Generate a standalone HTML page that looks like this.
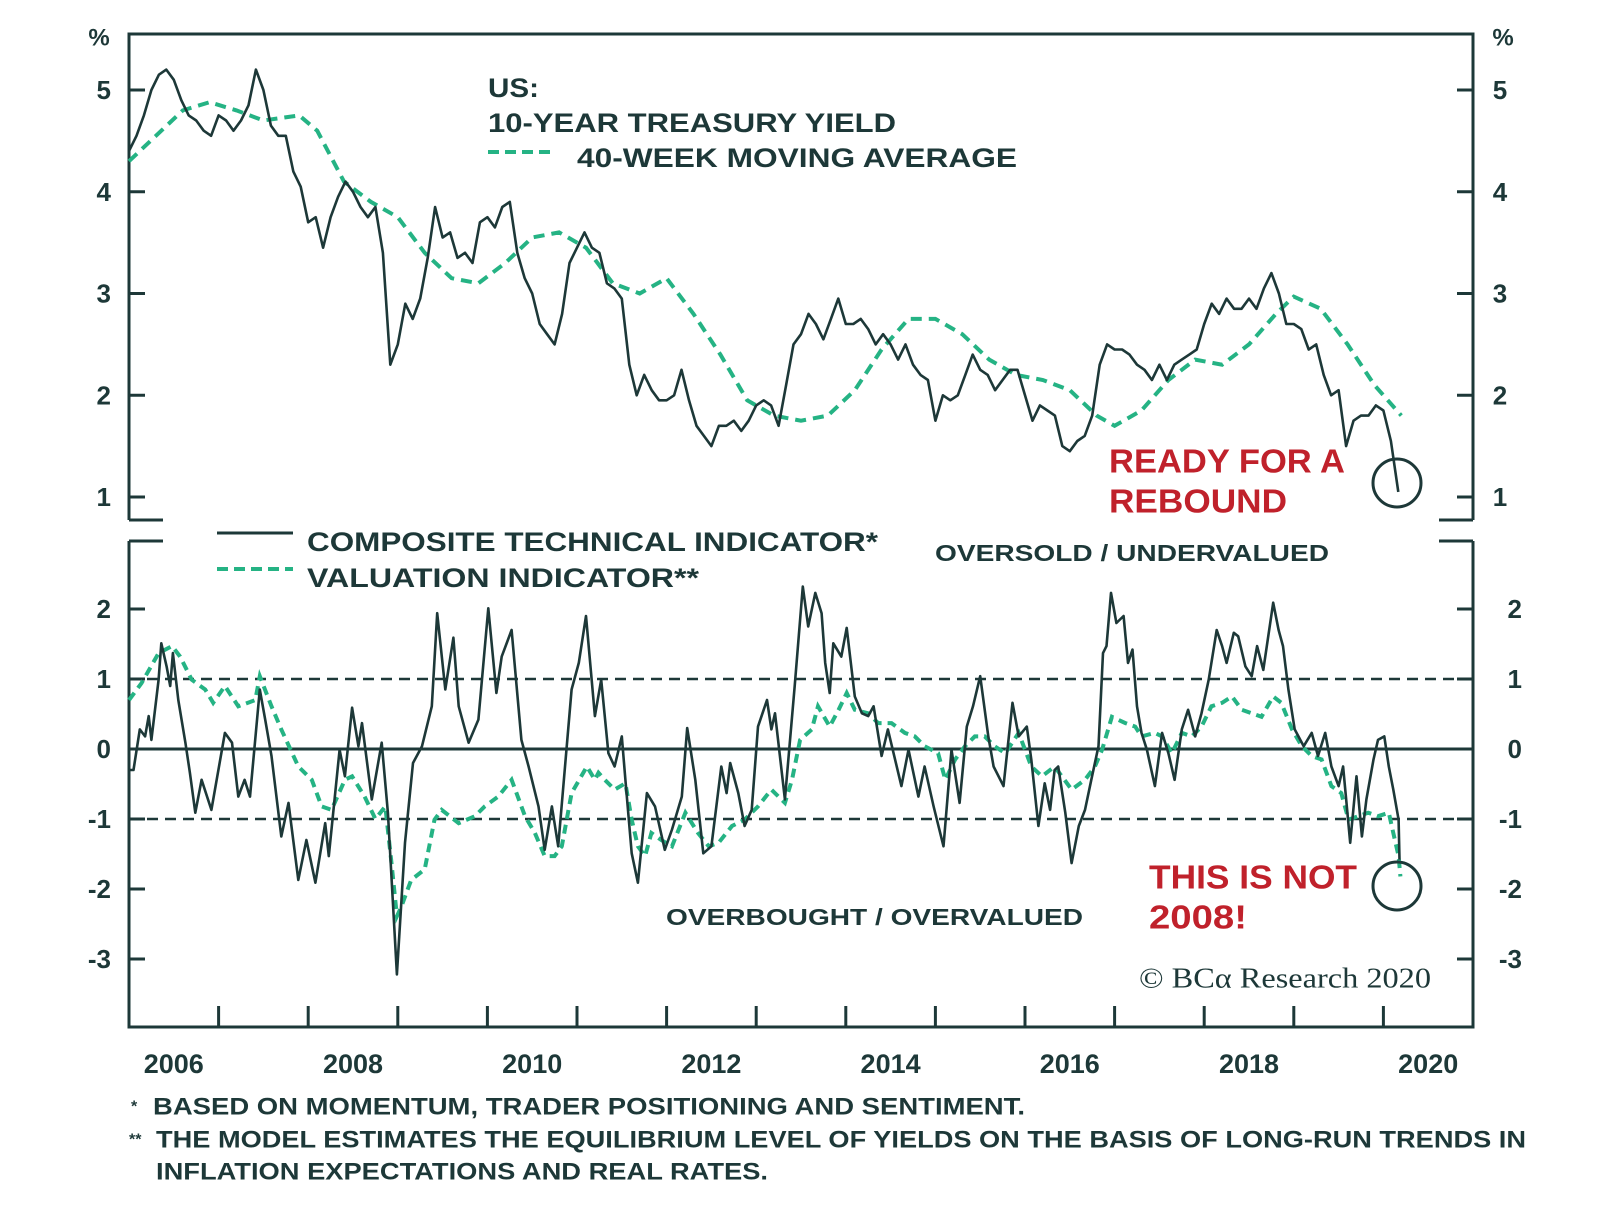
<!DOCTYPE html>
<html><head><meta charset="utf-8"><style>
html,body{margin:0;padding:0;background:#fff;}
svg{display:block;}
text{font-family:"Liberation Sans",sans-serif;}
</style></head><body>
<svg id="chart" width="1600" height="1219" viewBox="0 0 1600 1219" xmlns="http://www.w3.org/2000/svg">
<g id="frame" stroke="#1d3838" stroke-width="3" fill="none">
  <path d="M129 520 V34 H1473 V520"/>
  <path d="M129 520 H163 M1439 520 H1473"/>
  <path d="M129 541 V1027 H1473 V541"/>
  <path d="M129 541 H163 M1439 541 H1473"/>
</g>
<g id="axes"></g>
<g id="series"></g>
<g id="labels" fill="#1d3838" font-weight="bold">
  <text x="99" y="38" font-size="24" text-anchor="middle" dominant-baseline="central">%</text>
  <text x="1503" y="38" font-size="24" text-anchor="middle" dominant-baseline="central">%</text>
  <text x="488" y="88" font-size="27" dominant-baseline="central" textLength="51" lengthAdjust="spacingAndGlyphs">US:</text>
  <text x="488" y="123" font-size="27" dominant-baseline="central" textLength="408" lengthAdjust="spacingAndGlyphs">10-YEAR TREASURY YIELD</text>
  <line x1="488" y1="152" x2="556" y2="152" stroke="#25b384" stroke-width="4" stroke-dasharray="11,6"/>
  <text x="577" y="158" font-size="27" dominant-baseline="central" textLength="440" lengthAdjust="spacingAndGlyphs">40-WEEK MOVING AVERAGE</text>
  <line x1="217" y1="533" x2="293" y2="533" stroke="#1d3838" stroke-width="3"/>
  <text x="307" y="542" font-size="27" dominant-baseline="central" textLength="571" lengthAdjust="spacingAndGlyphs">COMPOSITE TECHNICAL INDICATOR*</text>
  <line x1="217" y1="569" x2="293" y2="569" stroke="#25b384" stroke-width="4" stroke-dasharray="11,6"/>
  <text x="307" y="578" font-size="27" dominant-baseline="central" textLength="392" lengthAdjust="spacingAndGlyphs">VALUATION INDICATOR**</text>
  <text x="935" y="553" font-size="23" dominant-baseline="central" textLength="394" lengthAdjust="spacingAndGlyphs">OVERSOLD / UNDERVALUED</text>
  <text x="666" y="917" font-size="23" dominant-baseline="central" textLength="417" lengthAdjust="spacingAndGlyphs">OVERBOUGHT / OVERVALUED</text>
  <g fill="#c0212b" font-weight="bold" font-size="33">
    <text x="1109" y="461" dominant-baseline="central" textLength="236" lengthAdjust="spacingAndGlyphs">READY FOR A</text>
    <text x="1109" y="501" dominant-baseline="central" textLength="178" lengthAdjust="spacingAndGlyphs">REBOUND</text>
    <text x="1149" y="877" dominant-baseline="central" textLength="208" lengthAdjust="spacingAndGlyphs">THIS IS NOT</text>
    <text x="1149" y="917" dominant-baseline="central" textLength="98" lengthAdjust="spacingAndGlyphs">2008!</text>
  </g>
  <circle cx="1397" cy="483" r="24" fill="none" stroke="#1d3838" stroke-width="3"/>
  <circle cx="1397" cy="886" r="24" fill="none" stroke="#1d3838" stroke-width="3"/>
  <text x="1139" y="979" font-size="28" font-weight="normal" dominant-baseline="central" textLength="292" lengthAdjust="spacingAndGlyphs" style="font-family:'Liberation Serif',serif">© BCα Research 2020</text>
  <g font-size="24">
    <text x="131" y="1107" font-size="16" dominant-baseline="central">*</text>
    <text x="153" y="1107" dominant-baseline="central" textLength="872" lengthAdjust="spacingAndGlyphs">BASED ON MOMENTUM, TRADER POSITIONING AND SENTIMENT.</text>
    <text x="129" y="1140" font-size="16" dominant-baseline="central">**</text>
    <text x="156" y="1140" dominant-baseline="central" textLength="1370" lengthAdjust="spacingAndGlyphs">THE MODEL ESTIMATES THE EQUILIBRIUM LEVEL OF YIELDS ON THE BASIS OF LONG-RUN TRENDS IN</text>
    <text x="156" y="1172" dominant-baseline="central" textLength="612" lengthAdjust="spacingAndGlyphs">INFLATION EXPECTATIONS AND REAL RATES.</text>
  </g>
</g>
</svg>
<script>
// ---- data ----
const yearLabels = [2006, 2008, 2010, 2012, 2014, 2016, 2018, 2020];
const topTicks = [1, 2, 3, 4, 5];
const bottomTicks = [-3, -2, -1, 0, 1, 2];
const bandLevels = [-1, 1];
// 10-year yield, monthly from Jan 2006
const yieldVals = [
4.4,4.55,4.75,5.0,5.15,5.2,5.1,4.9,4.75,4.7,4.6,4.55,
4.75,4.7,4.6,4.7,4.85,5.2,5.0,4.65,4.55,4.55,4.2,4.05,
3.7,3.75,3.45,3.75,3.95,4.1,4.0,3.85,3.75,3.85,3.4,2.3,
2.5,2.9,2.75,2.95,3.35,3.85,3.55,3.6,3.35,3.4,3.3,3.7,
3.75,3.65,3.85,3.9,3.4,3.15,3.0,2.7,2.6,2.5,2.8,3.3,
3.45,3.6,3.45,3.4,3.1,3.05,2.95,2.3,2.0,2.2,2.05,1.95,
1.95,2.0,2.25,1.95,1.7,1.6,1.5,1.7,1.7,1.75,1.65,1.75,
1.9,1.95,1.9,1.7,2.1,2.5,2.6,2.8,2.7,2.55,2.75,2.95,
2.7,2.7,2.75,2.65,2.5,2.6,2.5,2.35,2.5,2.3,2.2,2.15,
1.75,2.0,1.95,2.0,2.2,2.4,2.25,2.2,2.05,2.15,2.25,2.25,
2.0,1.75,1.9,1.85,1.8,1.5,1.45,1.55,1.6,1.8,2.3,2.5,
2.45,2.45,2.4,2.3,2.25,2.15,2.3,2.15,2.3,2.35,2.4,2.45,
2.7,2.9,2.8,2.95,2.85,2.85,2.95,2.85,3.05,3.2,3.0,2.7,
2.7,2.65,2.45,2.5,2.2,2.0,2.05,1.5,1.75,1.8,1.8,1.9,
1.85,1.55,1.05];
// 40-week moving average (years since 2006, value)
const maYears = [0,0.3,0.6,0.9,1.2,1.5,1.9,2.1,2.4,2.7,3.0,3.3,3.6,3.9,4.2,4.5,4.8,5.1,5.4,5.7,6.0,6.3,6.6,6.9,7.2,7.5,7.8,8.1,8.4,8.7,9.0,9.3,9.6,9.9,10.2,10.5,10.8,11.0,11.3,11.6,11.9,12.2,12.5,12.8,13.0,13.3,13.6,13.9,14.2];
const maVals = [4.3,4.55,4.8,4.88,4.8,4.7,4.75,4.6,4.1,3.9,3.75,3.4,3.15,3.1,3.3,3.55,3.6,3.45,3.1,3.0,3.15,2.8,2.4,1.95,1.8,1.75,1.8,2.05,2.45,2.75,2.75,2.6,2.35,2.2,2.15,2.05,1.8,1.7,1.85,2.15,2.35,2.3,2.5,2.8,2.97,2.85,2.5,2.1,1.8];
// composite technical indicator (years since 2006, value)
const compYears = [0,0.05,0.12,0.18,0.22,0.25,0.33,0.36,0.42,0.46,0.49,0.55,0.63,0.68,0.74,0.81,0.92,1.07,1.15,1.22,1.29,1.35,1.46,1.52,1.59,1.70,1.78,1.89,1.98,2.08,2.19,2.23,2.35,2.41,2.49,2.56,2.60,2.71,2.82,2.89,2.99,3.08,3.17,3.27,3.38,3.44,3.53,3.62,3.68,3.79,3.90,4.01,4.10,4.16,4.27,4.38,4.46,4.57,4.64,4.72,4.79,4.94,5.02,5.10,5.20,
5.27,5.35,5.42,5.50,5.54,5.61,5.68,5.78,5.87,5.98,6.06,6.17,6.23,6.32,6.41,6.50,6.61,6.67,6.71,6.80,6.87,6.95,7.02,7.12,7.17,7.21,7.32,7.43,7.52,7.58,7.66,7.73,7.77,7.82,7.86,7.95,8.01,8.10,8.18,8.25,8.31,8.40,8.47,8.62,8.70,8.81,8.88,8.98,9.09,9.18,9.27,9.35,9.42,9.50,9.59,9.65,9.76,9.86,9.93,10.02,10.07,10.15,10.22,10.28,10.33,
10.37,10.45,10.52,10.60,10.67,10.74,10.82,10.87,10.91,10.96,11.02,11.10,11.15,11.20,11.25,11.30,11.36,11.45,11.53,11.60,11.67,11.75,11.82,11.90,11.97,12.05,12.14,12.20,12.25,12.33,12.38,12.46,12.53,12.59,12.66,12.77,12.83,12.88,12.94,13.01,13.11,13.20,13.27,13.35,13.42,13.50,13.55,13.63,13.70,13.76,13.81,13.89,13.94,14.01,14.06,14.11,14.17,14.18];
const compVals = [-0.30,-0.30,0.28,0.18,0.47,0.13,0.99,1.51,1.18,0.90,1.37,0.70,0.09,-0.34,-0.91,-0.44,-0.87,0.23,0.09,-0.68,-0.44,-0.68,0.85,0.42,-0.10,-1.25,-0.77,-1.87,-1.30,-1.91,-1.06,-1.53,-0.01,-0.39,0.59,0.04,0.37,-0.72,0.09,-0.91,-3.22,-1.34,-0.20,0.04,0.61,1.94,0.85,1.59,0.61,0.09,0.42,2.01,0.80,1.32,1.70,0.13,-0.25,-0.82,-1.44,-0.82,-1.39,0.85,1.23,1.90,0.47,
0.99,-0.06,-0.25,0.18,-0.44,-1.49,-1.91,-0.63,-0.82,-1.44,-1.15,-0.68,0.30,-0.44,-1.49,-1.39,-0.25,-0.63,-0.20,-0.63,-1.10,-0.87,0.32,0.70,0.28,0.51,-0.72,0.90,2.32,1.75,2.23,1.94,1.23,0.80,1.51,1.32,1.73,0.75,0.51,0.47,0.61,-0.10,0.28,-0.53,-0.01,-0.68,-0.25,-0.82,-1.39,-0.01,-0.77,0.32,0.61,1.04,0.18,-0.25,-0.53,0.66,0.18,0.32,-0.15,-1.10,-0.49,-0.87,-0.30,
-0.25,-0.91,-1.63,-1.10,-0.87,-0.44,0.04,1.37,1.47,2.23,1.80,1.90,1.23,1.42,0.61,0.23,-0.01,-0.53,0.23,-0.06,-0.44,0.28,0.56,0.18,0.51,0.99,1.70,1.47,1.23,1.66,1.61,1.18,1.04,1.47,1.13,2.09,1.70,1.47,0.85,0.28,0.04,0.23,-0.10,0.23,-0.25,-0.53,-0.25,-1.34,-0.39,-1.25,-0.72,-0.15,0.13,0.18,-0.25,-0.58,-1.01,-1.58];
// valuation indicator (years since 2006, value)
const valYears = [0,0.14,0.33,0.48,0.57,0.70,0.85,0.94,1.07,1.22,1.41,1.46,1.59,1.70,1.89,2.04,2.15,2.26,2.41,2.49,2.63,2.75,2.86,2.93,2.99,3.04,3.15,3.30,3.41,3.49,3.68,3.86,3.97,4.12,4.27,4.42,4.53,4.64,4.75,4.83,4.94,5.11,5.20,
5.24,5.31,5.42,5.54,5.61,5.68,5.76,5.83,5.94,6.06,6.21,6.35,6.47,6.58,6.73,6.87,7.02,7.17,7.32,7.40,7.49,7.62,7.69,7.82,7.92,8.01,8.10,8.25,8.36,8.51,8.66,8.77,8.88,9.03,9.11,9.22,9.33,9.44,9.55,9.66,9.78,9.93,10.07,10.19,10.33,
10.52,10.67,10.78,10.86,10.97,11.12,11.23,11.30,11.45,11.53,11.64,11.75,11.86,11.97,12.08,12.20,12.31,12.42,12.53,12.64,12.77,12.86,12.98,13.09,13.20,13.31,13.42,13.53,13.61,13.72,13.83,13.94,14.06,14.11,14.17,14.19];
const valVals = [0.70,0.94,1.37,1.47,1.32,0.99,0.85,0.66,0.90,0.61,0.70,1.04,0.61,0.28,-0.25,-0.44,-0.82,-0.87,-0.44,-0.39,-0.68,-1.00,-0.82,-1.63,-2.39,-2.25,-1.87,-1.72,-1.01,-0.87,-1.06,-0.96,-0.82,-0.68,-0.44,-0.96,-1.20,-1.53,-1.53,-1.39,-0.63,-0.25,-0.44,
-0.34,-0.44,-0.58,-0.49,-1.01,-1.39,-1.53,-1.20,-1.30,-1.39,-0.91,-1.20,-1.39,-1.34,-1.10,-1.01,-0.82,-0.58,-0.77,-0.44,0.13,0.28,0.61,0.32,0.56,0.80,0.56,0.51,0.37,0.37,0.23,0.18,0.04,-0.06,-0.44,-0.15,0.04,0.18,0.18,0.04,-0.06,0.23,-0.25,-0.39,-0.25,
-0.58,-0.44,-0.25,-0.01,0.46,0.37,0.32,0.18,0.23,0.18,-0.06,0.23,0.18,0.32,0.61,0.66,0.75,0.56,0.51,0.46,0.75,0.66,0.28,0.04,-0.10,-0.15,-0.53,-0.63,-1.01,-0.96,-0.91,-0.96,-0.91,-1.20,-1.53,-1.82];

// ---- scales ----
const X0 = 129, XW = 89.6;
function x(t){ return X0 + t * XW; }
function yTop(v){ return 497 - (v - 1) * 101.75; }
function yBot(v){ return 749 - v * 70; }
const NS = 'http://www.w3.org/2000/svg';
const DARK = '#1d3838', GREEN = '#25b384';
function mk(tag, attrs, parent){
  const e = document.createElementNS(NS, tag);
  for (const k in attrs) e.setAttribute(k, attrs[k]);
  parent.appendChild(e);
  return e;
}
const axes = document.getElementById('axes');
const series = document.getElementById('series');

topTicks.forEach(v => {
  const yy = yTop(v);
  const t1 = mk('path', {d:`M129 ${yy} H145 M1457 ${yy} H1473`, stroke:DARK, 'stroke-width':3}, axes);
  
  
  const l = mk('text', {x:111, y:yy, 'text-anchor':'end', 'dominant-baseline':'central', 'font-size':26, 'font-weight':'bold', fill:DARK}, axes);
  l.textContent = v;
  
  
  const r = mk('text', {x:1500, y:yy, 'text-anchor':'middle', 'dominant-baseline':'central', 'font-size':26, 'font-weight':'bold', fill:DARK}, axes);
  r.textContent = v;
  
  
});
bottomTicks.forEach(v => {
  const yy = yBot(v);
  const t1 = mk('path', {d:`M129 ${yy} H145 M1457 ${yy} H1473`, stroke:DARK, 'stroke-width':3}, axes);
  
  
  const l = mk('text', {x:111, y:yy, 'text-anchor':'end', 'dominant-baseline':'central', 'font-size':26, 'font-weight':'bold', fill:DARK}, axes);
  l.textContent = v;
  
  
  const r = mk('text', {x:1522, y:yy, 'text-anchor':'end', 'dominant-baseline':'central', 'font-size':26, 'font-weight':'bold', fill:DARK}, axes);
  r.textContent = v;
  
  
});
const zl = mk('line', {x1:129, x2:1473, y1:yBot(0), y2:yBot(0), stroke:DARK, 'stroke-width':3}, axes);


bandLevels.forEach(v => {
  const b = mk('line', {x1:129, x2:1473, y1:yBot(v), y2:yBot(v), stroke:DARK, 'stroke-width':2.5, 'stroke-dasharray':'11,7'}, axes);
  
  
});
for (let yr = 2007; yr <= 2020; yr++) {
  const xx = x(yr - 2006);
  const tk = mk('line', {x1:xx, x2:xx, y1:1027, y2:1006, stroke:DARK, 'stroke-width':3}, axes);
  
  
}
yearLabels.forEach(yr => {
  const t = mk('text', {x:x(yr - 2006 + 0.5), y:1064, 'text-anchor':'middle', 'dominant-baseline':'central', 'font-size':27, 'font-weight':'bold', fill:DARK}, axes);
  t.textContent = yr;
  
  
});

function pathFrom(ts, vs, yf){
  return ts.map((t, i) => (i ? 'L' : 'M') + x(t).toFixed(1) + ' ' + yf(vs[i]).toFixed(1)).join(' ');
}
const yieldYears = yieldVals.map((_, i) => i / 12);
const ma = mk('path', {d:pathFrom(maYears, maVals, yTop), fill:'none', stroke:GREEN, 'stroke-width':4, 'stroke-dasharray':'11,7'}, series);


const yl = mk('path', {d:pathFrom(yieldYears, yieldVals, yTop), fill:'none', stroke:DARK, 'stroke-width':2.6, 'stroke-linejoin':'round'}, series);


const vl = mk('path', {d:pathFrom(valYears, valVals, yBot), fill:'none', stroke:GREEN, 'stroke-width':4, 'stroke-dasharray':'9,6'}, series);


const cl = mk('path', {d:pathFrom(compYears, compVals, yBot), fill:'none', stroke:DARK, 'stroke-width':2.6, 'stroke-linejoin':'round'}, series);


</script>
</body></html>
